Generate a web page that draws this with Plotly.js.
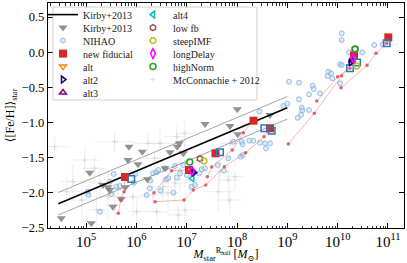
<!DOCTYPE html>
<html>
<head>
<meta charset="utf-8">
<script src="https://cdn.plot.ly/plotly-3.0.1.min.js"></script>
<style>html,body{margin:0;padding:0;background:#fff;}#plot{width:407px;height:263px;}</style>
</head>
<body>
<div id="plot"></div>
<script>
// ---------------- data (log10 M*, <[Fe/H]>) ----------------
const kirbyLineLogM = [4.45, 9.0];
const kirbyLineFeH  = [-2.155, -0.79];
const kirbyScatter  = 0.16;

const kirbyLogM = [5.854, 6.119, 5.074, 5.834, 6.033, 6.218, 5.338, 5.437, 5.471, 5.536, 5.781, 5.701,
                   4.509, 5.105, 8.006, 7.364, 7.861, 8.014, 6.854, 6.669, 6.933, 6.814, 6.570, 8.656];
const kirbyFeH  = [-1.344, -1.415, -1.714, -1.533, -1.594, -1.808, -1.889, -1.921, -1.960, -2.197, -1.921, -2.088,
                   -2.362, -2.433, -0.812, -1.021, -1.050, -1.168, -1.296, -1.424, -1.438, -1.344, -1.651, -0.893];

const nihaoLogM = [5.034, 5.046, 5.278, 5.550, 5.602, 5.471, 5.503, 5.670, 5.980, 5.954, 6.266, 6.331, 6.397,
                   6.272, 6.437, 6.570, 6.590, 6.484, 6.802, 6.868, 6.768, 6.735, 7.100, 7.166, 6.206, 7.927,
                   8.094, 8.113, 8.245, 8.324, 8.557, 8.656, 8.576, 8.113, 8.074, 7.742, 7.617, 7.299, 7.251,
                   9.033, 9.232, 9.504, 9.524, 9.431, 9.649, 9.232, 9.000, 8.920, 9.286, 9.298, 9.431, 9.206,
                   9.272, 9.814, 9.868, 9.802, 9.894, 10.047, 10.080, 10.047, 10.080, 10.080, 10.490, 10.728,
                   10.895, 10.226, 8.447, 8.457, 6.933, 7.364, 7.827, 6.635, 7.001];
const nihaoFeH  = [-1.984, -2.031, -2.268, -1.732, -1.913, -1.842, -2.017, -1.903, -1.732, -1.856, -1.936, -1.722, -1.708,
                   -1.827, -1.675, -1.651, -1.808, -1.970, -1.785, -1.722, -1.618, -1.998, -1.913, -1.889, -2.031, -1.273,
                   -1.273, -1.310, -1.259, -1.259, -1.296, -1.296, -1.367, -1.462, -1.486, -1.685, -1.604, -1.665, -1.722,
                   -0.420, -0.434, -0.477, -0.524, -0.599, -0.585, -0.670, -0.733, -0.765, -0.789, -0.826, -0.822, -0.932,
                   -0.893, -0.278, -0.300, -0.339, -0.371, -0.172, -0.182, -0.443, 0.268, 0.173, -0.002, 0.102,
                   0.112, -0.002, -0.844, -1.287, -1.604, -1.651, -1.509, -1.793, -1.746];

const fiducialLogM = [5.775, 7.046, 7.573, 8.328, 8.656, 10.325, 11.006];
const fiducialFeH  = [-1.775, -1.675, -1.438, -0.974, -1.082, -0.047, 0.211];

const blueSqLogM = [5.900, 7.662, 8.543, 8.690, 10.245, 10.385, 10.975];
const blueSqFeH  = [-1.803, -1.424, -1.082, -1.117, -0.229, -0.147, 0.126];

// evolutionary tracks
const tracksLogM = [
  [5.642, 5.689, 5.755, 5.775],
  [6.351, 6.703, 7.046],
  [7.410, 7.498, 7.907, 8.125, 8.328],
  [6.371, 6.947, 7.132, 7.378, 7.748, 8.173, 8.537, 8.656],
  [9.019, 9.536, 10.080, 10.285],
  [9.584, 10.001, 10.245],
  [10.067, 10.583, 10.762, 10.975]
];
const tracksFeH = [
  [-2.291, -2.102, -1.984, -1.775],
  [-1.998, -1.685, -1.675],
  [-1.771, -1.633, -1.391, -1.145, -0.974],
  [-2.126, -2.102, -1.960, -1.889, -1.628, -1.429, -1.202, -1.082],
  [-1.306, -0.869, -0.335, -0.154],
  [-0.694, -0.349, -0.229],
  [-0.505, -0.187, -0.016, 0.126]
];

// model variants: [logM at ~1e7, logM at ~1e10], [FeH, FeH]
const altLogM = [7.10, 10.30],  altFeH = [-1.69, -0.10];
const alt2LogM = [7.140, 10.259], alt2FeH = [-1.714, -0.144];
const alt3LogM = [7.126, 10.285], alt3FeH = [-1.696, -0.118];
const alt4LogM = [7.112, 10.300], alt4FeH = [-1.793, -0.130];
const lowfbLogM = [7.265, 10.345], lowfbFeH = [-1.515, 0.045];
const steepLogM = [7.344, 10.378], steepFeH = [-1.547, -0.197];
const longLogM = [7.100, 10.311], longFeH = [-1.685, -0.087];
const highLogM = [7.060, 10.345], highFeH = [-1.562, 0.045];

// McConnachie 2012 (log M*, [Fe/H], error in log M*, error in [Fe/H])
const mcLogM = [4.617, 4.915, 5.213, 5.278, 5.437, 5.576, 5.636, 5.934, 6.007, 6.331, 6.405, 6.530, 6.629, 6.768,
                6.868, 6.967, 7.066, 7.629, 7.827, 7.662, 7.861, 6.834, 6.967, 7.960, 6.802, 6.967, 7.861, 6.470,
                5.570, 4.974, 4.742, 6.232, 6.365, 4.378, 5.173];
const mcFeH  = [-1.984, -2.102, -2.244, -1.860, -2.055, -2.173, -1.931, -2.059, -2.268, -2.031, -2.268, -1.913, -2.002, -1.860,
                -1.675, -1.576, -1.817, -1.984, -1.818, -1.699, -2.102, -2.315, -2.244, -1.771, -1.202, -1.153, -1.296, -1.296,
                -1.273, -1.533, -1.842, -1.296, -1.509, -1.344, -1.651];
const mcErrLogM = [0.30, 0.25, 0.20, 0.20, 0.30, 0.20, 0.25, 0.30, 0.20, 0.25, 0.20, 0.30, 0.20, 0.25,
                   0.30, 0.20, 0.25, 0.30, 0.20, 0.20, 0.25, 0.20, 0.30, 0.20, 0.25, 0.20, 0.20, 0.25,
                   0.40, 0.30, 0.25, 0.30, 0.20, 0.30, 0.25];
const mcErrFeH  = [0.25, 0.30, 0.30, 0.20, 0.35, 0.25, 0.20, 0.30, 0.20, 0.25, 0.20, 0.20, 0.30, 0.25,
                   0.30, 0.35, 0.20, 0.30, 0.35, 0.25, 0.20, 0.15, 0.25, 0.20, 0.15, 0.20, 0.25, 0.20,
                   0.15, 0.20, 0.25, 0.15, 0.20, 0.15, 0.20];

// ---------------- helpers ----------------
const P = v => Math.pow(10, v);
const M = arr => arr.map(P);
const FONT = 'Liberation Serif, DejaVu Serif, serif';

const traces = [];

// McConnachie
traces.push({
  type: 'scatter', mode: 'markers', name: 'McConnachie + 2012', legend: 'legend2', legendrank: 6,
  x: M(mcLogM), y: mcFeH,
  marker: {symbol: 'cross-thin-open', size: 4, color: 'rgba(195,195,195,0.6)', line: {color: 'rgba(195,195,195,0.6)', width: 0.8}},
  error_x: {type: 'data', symmetric: false,
            array: mcLogM.map((v, i) => P(v + mcErrLogM[i]) - P(v)),
            arrayminus: mcLogM.map((v, i) => P(v) - P(v - mcErrLogM[i])),
            color: 'rgba(205,205,205,0.5)', thickness: 0.7, width: 0},
  error_y: {type: 'data', array: mcErrFeH, color: 'rgba(205,205,205,0.5)', thickness: 0.7, width: 0}
});

// NIHAO
traces.push({
  type: 'scatter', mode: 'markers', name: 'NIHAO', legend: 'legend', legendrank: 3,
  x: M(nihaoLogM), y: nihaoFeH,
  marker: {symbol: 'circle', size: 5, color: 'rgba(170,204,234,0.4)', line: {color: 'rgba(125,175,222,0.75)', width: 1}}
});

// Kirby triangles
traces.push({
  type: 'scatter', mode: 'markers', name: 'Kirby+2013', legend: 'legend', legendrank: 2,
  x: M(kirbyLogM), y: kirbyFeH,
  marker: {symbol: 'triangle-down', size: 8, color: 'rgba(128,128,128,0.85)', line: {width: 0}}
});

// Kirby scatter lines
[kirbyScatter, -kirbyScatter].forEach(d => traces.push({
  type: 'scatter', mode: 'lines', showlegend: false, hoverinfo: 'skip',
  x: M(kirbyLineLogM), y: kirbyLineFeH.map(v => v + d),
  line: {color: 'rgb(140,140,140)', width: 0.8}
}));

// Kirby relation
traces.push({
  type: 'scatter', mode: 'lines', name: 'Kirby+2013', legend: 'legend', legendrank: 1,
  x: M(kirbyLineLogM), y: kirbyLineFeH,
  line: {color: 'black', width: 1.6}
});

// tracks
tracksLogM.forEach((t, i) => traces.push({
  type: 'scatter', mode: 'lines+markers', showlegend: false,
  x: M(t), y: tracksFeH[i],
  line: {color: 'rgba(240,120,120,0.6)', width: 0.9},
  marker: {symbol: 'circle', size: 3.5, color: 'rgba(225,70,70,0.85)'}
}));

// fiducial
traces.push({
  type: 'scatter', mode: 'markers', name: 'new fiducial', legend: 'legend', legendrank: 4,
  x: M(fiducialLogM), y: fiducialFeH,
  marker: {symbol: 'square', size: 8, color: '#d62728', line: {width: 0}}
});

// blue open squares
traces.push({
  type: 'scatter', mode: 'markers', showlegend: false,
  x: M(blueSqLogM), y: blueSqFeH,
  marker: {symbol: 'square-open', size: 6.5, color: '#2a7ab8', line: {width: 1.5}}
});

function model(name, legend, rank, lm, fe, symbol, color, size) {
  traces.push({
    type: 'scatter', mode: 'markers', name: name, legend: legend, legendrank: rank,
    x: M(lm), y: fe,
    marker: {symbol: symbol, size: size || 6, color: color, line: {color: color, width: 1.5}}
  });
}
model('alt', 'legend', 5, altLogM, altFeH, 'triangle-down-open', '#ff7f0e');
model('alt4', 'legend2', 1, alt4LogM, alt4FeH, 'triangle-left-open', '#00bfbf');
model('low fb', 'legend2', 2, lowfbLogM, lowfbFeH, 'hexagon-open', '#8c564b');
model('alt3', 'legend', 7, alt3LogM, alt3FeH, 'triangle-up-open', '#800080');
model('alt2', 'legend', 6, alt2LogM, alt2FeH, 'triangle-right-open', '#00008b');
model('steepIMF', 'legend2', 3, steepLogM, steepFeH, 'octagon-open', '#bcbd22');
model('longDelay', 'legend2', 4, longLogM, longFeH, 'diamond-tall-open', '#ff00ff', 7);
model('highNorm', 'legend2', 5, highLogM, highFeH, 'circle-open', '#2ca02c');

const legendBase = {
  xanchor: 'left', yanchor: 'top', bgcolor: 'rgba(0,0,0,0)', borderwidth: 0,
  font: {family: FONT, size: 10, color: '#222'}, itemwidth: 30, tracegroupgap: 0, traceorder: 'normal'
};

const layout = {
  width: 407, height: 263,
  margin: {l: 48, r: 3, t: 3, b: 35},
  paper_bgcolor: 'white', plot_bgcolor: 'white',
  font: {family: FONT, size: 12, color: 'black'},
  showlegend: true,
  xaxis: {
    type: 'log', range: [4.245, 11.318], dtick: 1, exponentformat: 'power',
    ticks: 'inside', ticklen: 5, tickwidth: 1, tickcolor: 'black',
    minor: {ticks: 'inside', ticklen: 2.5, tickwidth: 0.8, tickcolor: 'black', dtick: 'D1', showgrid: false},
    showline: true, linecolor: 'black', linewidth: 1.2, mirror: 'ticks',
    showgrid: false, zeroline: false,
    tickfont: {family: FONT, size: 12},
    title: {text: '<i>M</i><sub>star</sub><sup>R<sub>half</sub></sup> [<i>M</i><sub>⊙</sub>]', font: {family: FONT, size: 12}, standoff: 4}
  },
  yaxis: {
    range: [-2.5, 0.7], dtick: 0.5, tick0: 0, tickformat: '.1f',
    ticks: 'inside', ticklen: 5, tickwidth: 1, tickcolor: 'black',
    showline: true, linecolor: 'black', linewidth: 1.2, mirror: 'ticks',
    showgrid: false, zeroline: false,
    tickfont: {family: FONT, size: 12.5},
    title: {text: '⟨[Fe/H]⟩<sub>star</sub>', font: {family: FONT, size: 12}, standoff: 4}
  },
  legend: Object.assign({}, legendBase, {x: 0.0253, y: 0.985}),
  legend2: Object.assign({}, legendBase, {x: 0.278, y: 0.985}),
  shapes: [{
    type: 'rect', xref: 'paper', yref: 'paper', layer: 'above',
    x0: 0.014, x1: 0.587, y0: 0.569, y1: 0.982,
    line: {color: '#d0d0d0', width: 1}, fillcolor: 'rgba(255,255,255,0.85)'
  }]
};

// target pixel placement of the two legend columns (text start x, first-row centre y)
const legendPlacement = {legend: [83, 15], legend2: [173, 15]};
const rowStep = 13;

function parseTr(s) {
  const m = /translate\(\s*([-\d.e]+)[ ,]+([-\d.e]+)\s*\)/.exec(s || '');
  return m ? [parseFloat(m[1]), parseFloat(m[2])] : [0, 0];
}

const gd = document.getElementById('plot');
Plotly.newPlot(gd, traces, layout, {staticPlot: true, displayModeBar: false}).then(() => {
  const svgRect = gd.querySelector('svg.main-svg').getBoundingClientRect();
  Object.keys(legendPlacement).forEach(id => {
    const leg = gd.querySelector('g.' + id);
    if (!leg) return;
    const items = Array.from(leg.querySelectorAll('g.traces'));
    if (!items.length) return;
    const y0 = parseTr(items[0].getAttribute('transform'))[1];
    items.forEach((it, i) => {
      const [x] = parseTr(it.getAttribute('transform'));
      it.setAttribute('transform', 'translate(' + x + ',' + (y0 + i * rowStep) + ')');
    });
    // measure where the first text really is, then shift the whole legend onto the target
    const t = items[0].querySelector('text');
    if (!t) return;
    const r = t.getBoundingClientRect();
    const [lx, ly] = parseTr(leg.getAttribute('transform'));
    const [tx, ty] = legendPlacement[id];
    const dx = tx - (r.left - svgRect.left);
    const dy = ty - (r.top + r.height / 2 - svgRect.top);
    leg.setAttribute('transform', 'translate(' + (lx + dx) + ',' + (ly + dy) + ')');
  });
});
</script>
</body>
</html>
